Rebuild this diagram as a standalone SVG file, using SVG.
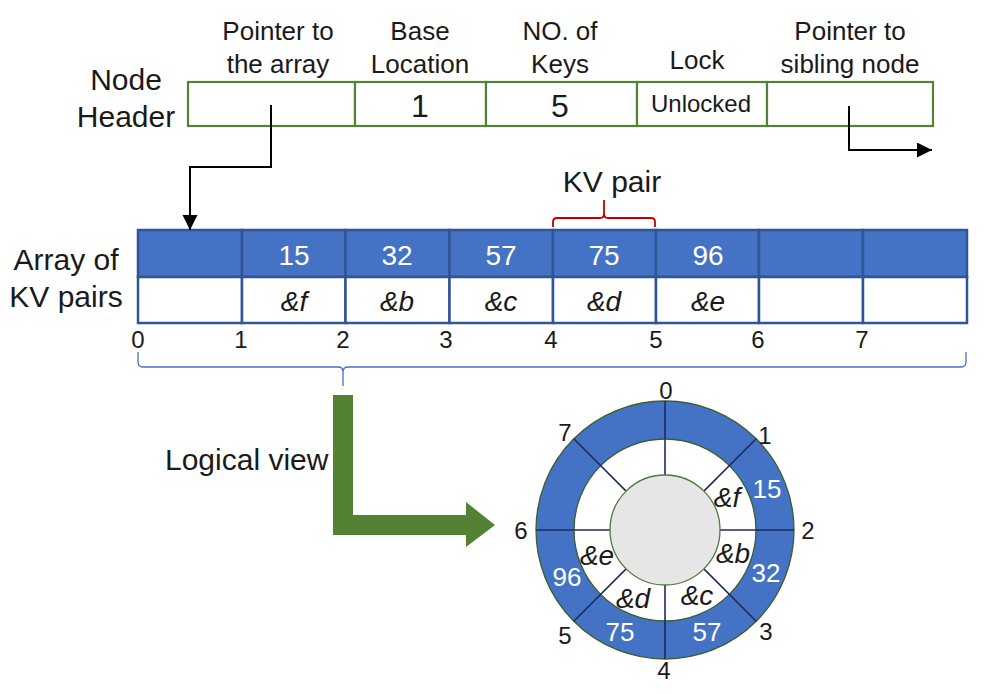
<svg xmlns="http://www.w3.org/2000/svg" width="988" height="694" viewBox="0 0 988 694">
<defs>
<style>
text{font-family:"Liberation Sans",Arial,sans-serif;fill:#1a1a1a}
.lbl{font-size:26px;text-anchor:middle}
.big{font-size:30px}
.hv{font-size:32px;text-anchor:middle}
.hcell{fill:#fff;stroke:#548235;stroke-width:2.2}
.acell{fill:#4472C4;stroke:#2F5597;stroke-width:2.5}
.bcell{fill:#fff;stroke:#2F5597;stroke-width:2.5}
.av{font-size:28px;text-anchor:middle;fill:#fff}
.ap{font-size:28px;text-anchor:middle;font-style:italic}
.idx{font-size:24px;text-anchor:middle}
.rv{font-size:26px;text-anchor:middle;fill:#fff}
.rp{font-size:28px;text-anchor:middle;font-style:italic}
.rad{stroke:#1F2A5C;stroke-width:1.6}
.conn{fill:none;stroke:#000;stroke-width:2}
</style>
<marker id="ah" markerUnits="userSpaceOnUse" markerWidth="16" markerHeight="16" refX="15" refY="7.5" orient="auto">
<path d="M0,0 L15,7.5 L0,15 Z" fill="#000"/>
</marker>
</defs>
<rect width="988" height="694" fill="#fff"/>

<g id="node-header">
<text class="big" x="126" y="90" text-anchor="middle">Node</text>
<text class="big" x="126" y="127" text-anchor="middle">Header</text>
<rect class="hcell" x="188" y="82" width="167" height="44"/>
<rect class="hcell" x="355" y="82" width="131" height="44"/>
<rect class="hcell" x="486" y="82" width="151" height="44"/>
<rect class="hcell" x="637" y="82" width="130" height="44"/>
<rect class="hcell" x="767" y="82" width="166" height="44"/>
<text class="lbl" x="278" y="40">Pointer to</text>
<text class="lbl" x="278" y="73">the array</text>
<text class="lbl" x="420" y="40">Base</text>
<text class="lbl" x="420" y="73">Location</text>
<text class="lbl" x="560" y="40">NO. of</text>
<text class="lbl" x="560" y="73">Keys</text>
<text class="lbl" x="697" y="69">Lock</text>
<text class="lbl" x="850" y="40">Pointer to</text>
<text class="lbl" x="850" y="73">sibling node</text>
<text class="hv" x="420" y="117">1</text>
<text class="hv" x="560" y="117">5</text>
<text x="701" y="112" text-anchor="middle" style="font-size:24px">Unlocked</text>
</g>

<g id="kv-array">
<text class="big" x="66" y="270" text-anchor="middle">Array of</text>
<text class="big" x="66" y="307" text-anchor="middle">KV pairs</text>
<g>
<rect class="acell" x="138" y="230" width="104" height="47"/>
<rect class="acell" x="242" y="230" width="103.5" height="47"/>
<rect class="acell" x="345.5" y="230" width="104" height="47"/>
<rect class="acell" x="449.5" y="230" width="103.5" height="47"/>
<rect class="acell" x="553" y="230" width="103" height="47"/>
<rect class="acell" x="656" y="230" width="103" height="47"/>
<rect class="acell" x="759" y="230" width="104" height="47"/>
<rect class="acell" x="863" y="230" width="104" height="47"/>
<rect class="bcell" x="138" y="277" width="104" height="46"/>
<rect class="bcell" x="242" y="277" width="103.5" height="46"/>
<rect class="bcell" x="345.5" y="277" width="104" height="46"/>
<rect class="bcell" x="449.5" y="277" width="103.5" height="46"/>
<rect class="bcell" x="553" y="277" width="103" height="46"/>
<rect class="bcell" x="656" y="277" width="103" height="46"/>
<rect class="bcell" x="759" y="277" width="104" height="46"/>
<rect class="bcell" x="863" y="277" width="104" height="46"/>
</g>
<text class="av" x="294" y="265">15</text>
<text class="av" x="397" y="265">32</text>
<text class="av" x="501" y="265">57</text>
<text class="av" x="604" y="265">75</text>
<text class="av" x="708" y="265">96</text>
<text class="ap" x="294" y="311">&amp;f</text>
<text class="ap" x="397" y="311">&amp;b</text>
<text class="ap" x="501" y="311">&amp;c</text>
<text class="ap" x="604" y="311">&amp;d</text>
<text class="ap" x="708" y="311">&amp;e</text>
<text class="idx" x="138" y="348">0</text>
<text class="idx" x="241" y="348">1</text>
<text class="idx" x="343" y="348">2</text>
<text class="idx" x="446" y="348">3</text>
<text class="idx" x="551" y="348">4</text>
<text class="idx" x="656" y="348">5</text>
<text class="idx" x="758" y="348">6</text>
<text class="idx" x="862" y="348">7</text>
</g>

<g id="kv-pair-label">
<text x="612" y="192" text-anchor="middle" style="font-size:30px">KV pair</text>
<path d="M553,227 V222 Q553,218 557,218 H600 Q604,218 604,214 V200 M604,214 Q604,218 608,218 H651 Q655,218 655,222 V227" fill="none" stroke="#C00000" stroke-width="1.8"/>
</g>

<g id="range-brace">
<path d="M138,352 V362 Q138,367 143,367 H338 Q343,367 343,372 V386 M343,372 Q343,367 348,367 H961 Q966,367 966,362 V352" fill="none" stroke="#4472C4" stroke-width="1.3"/>
</g>

<g id="logical-view">
<text class="big" x="165" y="470">Logical view</text>
<path d="M333,395 H353 V515 H466 V502 L495,525 L466,547 V535 H333 Z" fill="#548235"/>
</g>

<g id="ring">
<circle cx="665" cy="530" r="129" fill="#4472C4" stroke="#3B5E2B" stroke-width="1.3"/>
<circle cx="665" cy="530" r="91" fill="#fff" stroke="#3B5E2B" stroke-width="1.3"/>
<line class="rad" x1="665" y1="475" x2="665" y2="401"/>
<line class="rad" x1="703.9" y1="491.1" x2="756.2" y2="438.8"/>
<line class="rad" x1="720" y1="530" x2="794" y2="530"/>
<line class="rad" x1="703.9" y1="568.9" x2="756.2" y2="621.2"/>
<line class="rad" x1="665" y1="585" x2="665" y2="659"/>
<line class="rad" x1="626.1" y1="568.9" x2="573.8" y2="621.2"/>
<line class="rad" x1="610" y1="530" x2="536" y2="530"/>
<line class="rad" x1="626.1" y1="491.1" x2="573.8" y2="438.8"/>
<circle cx="665" cy="530" r="55" fill="#E6E6E6" stroke="#4E7A3A" stroke-width="1.3"/>
<text class="idx" x="666" y="399">0</text>
<text class="idx" x="765" y="444">1</text>
<text class="idx" x="808" y="539">2</text>
<text class="idx" x="766" y="640">3</text>
<text class="idx" x="664" y="679">4</text>
<text class="idx" x="565" y="644">5</text>
<text class="idx" x="521" y="539">6</text>
<text class="idx" x="565" y="441">7</text>
<text class="rv" x="767" y="498">15</text>
<text class="rv" x="766" y="582">32</text>
<text class="rv" x="707" y="641">57</text>
<text class="rv" x="620" y="641">75</text>
<text class="rv" x="567" y="586">96</text>
<text class="rp" x="727" y="507">&amp;f</text>
<text class="rp" x="733" y="563">&amp;b</text>
<text class="rp" x="697" y="605">&amp;c</text>
<text class="rp" x="633" y="608">&amp;d</text>
<text class="rp" x="597" y="565">&amp;e</text>
</g>

<g id="connectors">
<path class="conn" d="M271,105 V167 H190 V230" marker-end="url(#ah)"/>
<path class="conn" d="M849,106 V150 H932" marker-end="url(#ah)"/>
</g>
</svg>
